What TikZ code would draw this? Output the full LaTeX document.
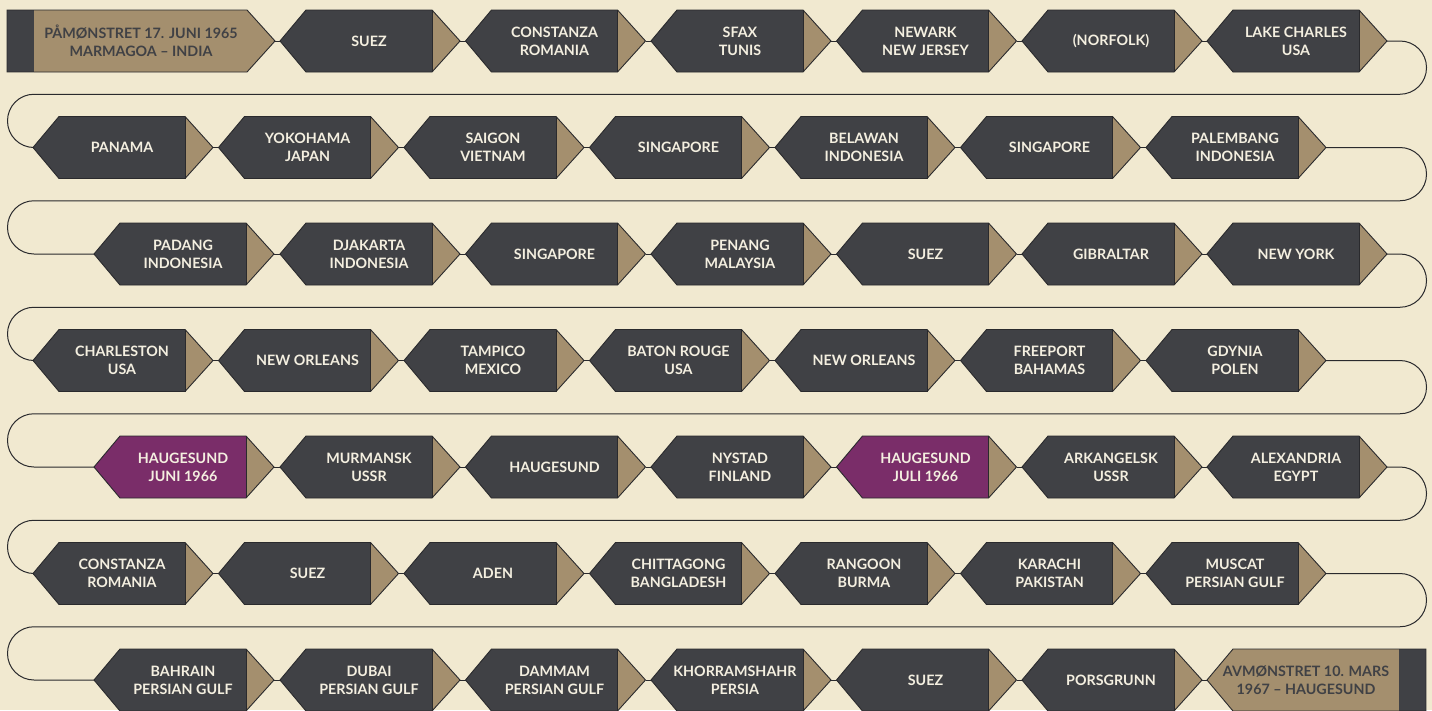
\documentclass[tikz,border=0pt]{standalone}
\usepackage{fontspec}
\setmainfont{Lato}
\definecolor{bgc}{HTML}{F1E9D0}
\definecolor{darkc}{HTML}{404145}
\definecolor{tanc}{HTML}{A48F6E}
\definecolor{purc}{HTML}{7A2D69}
\definecolor{linec}{HTML}{2A2A2D}
\definecolor{txtc}{HTML}{F4EFE0}
\tikzset{
  outl/.style={draw=linec,line width=0.9pt,line join=miter},
  conn/.style={draw=linec,line width=1pt},
  lbl/.style={align=center,inner sep=0pt,text=txtc,font=\fontsize{14.3}{18}\selectfont\bfseries},
  lbldark/.style={lbl,text=darkc}
}
% #1 text offset, #2 name, #3 x of left point, #4 y centre, #5 body colour, #6 text
\newcommand\stp[6][89]{%
  \fill[#5] (#3,#4) -- (#3+26,#4-31) -- (#3+152,#4-31) -- (#3+152,#4+31) -- (#3+26,#4+31) -- cycle;
  \fill[tanc] (#3+152,#4-31) -- (#3+180,#4) -- (#3+152,#4+31) -- cycle;
  \draw[outl] (#3,#4) -- (#3+26,#4-31) -- (#3+152,#4-31) -- (#3+180,#4) -- (#3+152,#4+31) -- (#3+26,#4+31) -- cycle;
  \draw[outl] (#3+152,#4-31) -- (#3+152,#4+31);
  \node[lbl] (#2) at (#3+#1,#4) {#6};
  \coordinate (#2-in) at (#3,#4);
  \coordinate (#2-out) at (#3+180,#4);
}
\begin{document}
\begin{tikzpicture}[x=1pt,y=-1pt]
\fill[bgc] (0,0) rectangle (1432,710);
\useasboundingbox (0,0) rectangle (1432,710);

% start node
\fill[darkc] (7,10) rectangle (34,72);
\fill[tanc] (34,10) -- (247,10) -- (275,41) -- (247,72) -- (34,72) -- cycle;
\draw[outl] (7,10) -- (247,10) -- (275,41) -- (247,72) -- (7,72) -- cycle;
\node[lbldark] (s1) at (141,41) {PÅMØNSTRET 17. JUNI 1965\\MARMAGOA – INDIA};
\coordinate (s1-out) at (275,41);

% row 1
\stp{s2}{280}{41}{darkc}{SUEZ}
\stp{s3}{465.5}{41}{darkc}{CONSTANZA\\ROMANIA}
\stp{s4}{651}{41}{darkc}{SFAX\\TUNIS}
\stp{s5}{836.5}{41}{darkc}{NEWARK\\NEW JERSEY}
\stp{s6}{1022}{41}{darkc}{(NORFOLK)}
\stp{s7}{1207}{41}{darkc}{LAKE CHARLES\\USA}
% row 2
\stp{s8}{33}{147.5}{darkc}{PANAMA}
\stp{s9}{218.5}{147.5}{darkc}{YOKOHAMA\\JAPAN}
\stp{s10}{404}{147.5}{darkc}{SAIGON\\VIETNAM}
\stp{s11}{589.5}{147.5}{darkc}{SINGAPORE}
\stp{s12}{775}{147.5}{darkc}{BELAWAN\\INDONESIA}
\stp{s13}{960.5}{147.5}{darkc}{SINGAPORE}
\stp{s14}{1146}{147.5}{darkc}{PALEMBANG\\INDONESIA}
% row 3
\stp{s15}{94}{254}{darkc}{PADANG\\INDONESIA}
\stp{s16}{280}{254}{darkc}{DJAKARTA\\INDONESIA}
\stp{s17}{465.5}{254}{darkc}{SINGAPORE}
\stp{s18}{651}{254}{darkc}{PENANG\\MALAYSIA}
\stp{s19}{836.5}{254}{darkc}{SUEZ}
\stp{s20}{1022}{254}{darkc}{GIBRALTAR}
\stp{s21}{1207}{254}{darkc}{NEW YORK}
% row 4
\stp{s22}{33}{360.5}{darkc}{CHARLESTON\\USA}
\stp{s23}{218.5}{360.5}{darkc}{NEW ORLEANS}
\stp{s24}{404}{360.5}{darkc}{TAMPICO\\MEXICO}
\stp{s25}{589.5}{360.5}{darkc}{BATON ROUGE\\USA}
\stp{s26}{775}{360.5}{darkc}{NEW ORLEANS}
\stp{s27}{960.5}{360.5}{darkc}{FREEPORT\\BAHAMAS}
\stp{s28}{1146}{360.5}{darkc}{GDYNIA\\POLEN}
% row 5
\stp{s29}{94}{467}{purc}{HAUGESUND\\JUNI 1966}
\stp{s30}{280}{467}{darkc}{MURMANSK\\USSR}
\stp{s31}{465.5}{467}{darkc}{HAUGESUND}
\stp{s32}{651}{467}{darkc}{NYSTAD\\FINLAND}
\stp{s33}{836.5}{467}{purc}{HAUGESUND\\JULI 1966}
\stp{s34}{1022}{467}{darkc}{ARKANGELSK\\USSR}
\stp{s35}{1207}{467}{darkc}{ALEXANDRIA\\EGYPT}
% row 6
\stp{s36}{33}{573.5}{darkc}{CONSTANZA\\ROMANIA}
\stp{s37}{218.5}{573.5}{darkc}{SUEZ}
\stp{s38}{404}{573.5}{darkc}{ADEN}
\stp{s39}{589.5}{573.5}{darkc}{CHITTAGONG\\BANGLADESH}
\stp{s40}{775}{573.5}{darkc}{RANGOON\\BURMA}
\stp{s41}{960.5}{573.5}{darkc}{KARACHI\\PAKISTAN}
\stp{s42}{1146}{573.5}{darkc}{MUSCAT\\PERSIAN GULF}
% row 7
\stp{s43}{94}{680}{darkc}{BAHRAIN\\PERSIAN GULF}
\stp{s44}{280}{680}{darkc}{DUBAI\\PERSIAN GULF}
\stp{s45}{465.5}{680}{darkc}{DAMMAM\\PERSIAN GULF}
\stp[84]{s46}{651}{680}{darkc}{KHORRAMSHAHR\\PERSIA}
\stp{s47}{836.5}{680}{darkc}{SUEZ}
\stp{s48}{1022}{680}{darkc}{PORSGRUNN}

% end node
\fill[tanc] (1207,680) -- (1233,649) -- (1399,649) -- (1399,711) -- (1233,711) -- cycle;
\fill[darkc] (1399,649) rectangle (1426,711);
\draw[outl] (1207,680) -- (1233,649) -- (1426,649) -- (1426,711) -- (1233,711) -- cycle;
\node[lbldark] (s49) at (1306,680) {AVMØNSTRET 10. MARS\\1967 – HAUGESUND};
\coordinate (s49-in) at (1207,680);

% connectors within rows
\foreach \r in {0,...,6}{
  \foreach \k in {1,...,6}{
    \pgfmathtruncatemacro\a{7*\r+\k}
    \pgfmathtruncatemacro\b{\a+1}
    \draw[conn] (s\a-out) -- (s\b-in);
  }
}
% turns
\foreach \a/\b/\y in {7/8/41, 14/15/147.5, 21/22/254, 28/29/360.5, 35/36/467, 42/43/573.5}{
  \draw[conn,rounded corners=26.5pt] (s\a-out) -- (1426.5,\y) -- (1426.5,\y+53.25) -- (7.5,\y+53.25) -- (7.5,\y+106.5) -- (s\b-in);
}
\end{tikzpicture}
\end{document}
